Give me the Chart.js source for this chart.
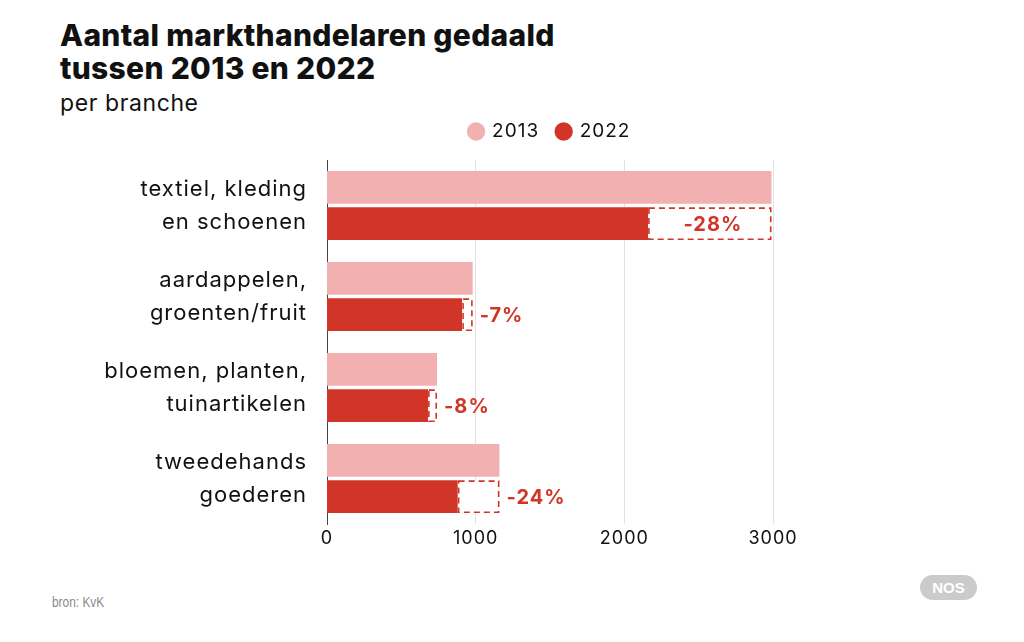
<!DOCTYPE html>
<html>
<head>
<meta charset="utf-8">
<script src="https://cdn.jsdelivr.net/npm/chart.js@4.4.1/dist/chart.umd.min.js"></script>
<style>
  html, body { margin: 0; padding: 0; background: #fff; }
  body { width: 1024px; height: 642px; position: relative; overflow: hidden; font-family: Inter, sans-serif; color: #111; }
  #title { position: absolute; left: 60px; top: 19px; font-size: 30px; font-weight: 800; line-height: 33px; letter-spacing: 0.3px; }
  #subtitle { position: absolute; left: 60px; top: 90px; font-size: 23px; line-height: 26px; letter-spacing: 0.6px; }
  #wrap { position: absolute; left: 0; top: 104px; width: 1024px; height: 473px; }
  #source { position: absolute; left: 52px; top: 594px; font-family: "Liberation Sans", sans-serif; font-size: 14px; color: #8a8a8a; transform: scaleX(0.85); transform-origin: left top; }
  #badge { position: absolute; left: 920px; top: 575px; width: 57px; height: 25px; border-radius: 13px; background: #cbcbcb; color: #fff; font-family: "Liberation Sans", sans-serif; font-weight: bold; font-size: 15px; line-height: 25px; text-align: center; }
</style>
</head>
<body>
<div id="title">Aantal markthandelaren gedaald<br>tussen 2013 en 2022</div>
<div id="subtitle">per branche</div>
<div id="wrap"><canvas id="chart"></canvas></div>
<div id="source">bron: KvK</div>
<div id="badge">NOS</div>

<script>
// data
const categories = [
  ['textiel, kleding', 'en schoenen'],
  ['aardappelen,', 'groenten/fruit'],
  ['bloemen, planten,', 'tuinartikelen'],
  ['tweedehands', 'goederen']
];
const values2013 = [2990, 980, 740, 1160];
const values2022 = [2160, 910, 680, 880];
const changeLabels = ['-28%', '-7%', '-8%', '-24%'];
const xTicks = [0, 1000, 2000, 3000];

const pink = '#f2b1b0';
const red = '#d13527';
const font = 'Inter, sans-serif';

// the original font runs wider than Inter, so space the letters a bit
const wideText = {
  id: 'wideText',
  beforeUpdate(chart) { chart.ctx.letterSpacing = '1px'; },
  beforeDraw(chart) { chart.ctx.letterSpacing = '1px'; }
};

// dashed box from the 2022 bar to the 2013 value, with the percentage
const dropBoxes = {
  id: 'dropBoxes',
  afterDatasetsDraw(chart) {
    const ctx = chart.ctx;
    const oldBars = chart.getDatasetMeta(0).data;
    const newBars = chart.getDatasetMeta(1).data;
    ctx.save();
    ctx.font = 'bold 20px ' + font;
    ctx.textBaseline = 'middle';
    newBars.forEach((bar, i) => {
      const x0 = bar.x;
      const x1 = oldBars[i].x;
      const h = bar.height;
      const top = bar.y - h / 2;
      ctx.fillStyle = '#fff';
      ctx.fillRect(x0, top, x1 - x0, h);
      ctx.setLineDash([6, 4]);
      ctx.lineWidth = 1.6;
      ctx.strokeStyle = red;
      ctx.strokeRect(x0 + 0.8, top + 0.8, x1 - x0 - 1.6, h - 1.6);
      ctx.setLineDash([]);
      ctx.fillStyle = red;
      const tw = ctx.measureText(changeLabels[i]).width;
      if (x1 - x0 > tw + 20) {
        ctx.textAlign = 'center';
        ctx.fillText(changeLabels[i], (x0 + x1) / 2 + 3, bar.y + 1);
      } else {
        ctx.textAlign = 'left';
        ctx.fillText(changeLabels[i], x1 + 7, bar.y + 1);
      }
    });
    ctx.restore();
  }
};

new Chart(document.getElementById('chart'), {
  type: 'bar',
  data: {
    labels: categories,
    datasets: [
      { label: '2013', data: values2013, backgroundColor: pink, categoryPercentage: 0.8, barPercentage: 0.9 },
      { label: '2022', data: values2022, backgroundColor: red, categoryPercentage: 0.8, barPercentage: 0.9 }
    ]
  },
  options: {
    indexAxis: 'y',
    responsive: true,
    maintainAspectRatio: false,
    animation: false,
    layout: { padding: { left: 0, right: 251, bottom: 0, top: 0 } },
    plugins: {
      legend: {
        position: 'top',
        fullSize: false,
        labels: {
          usePointStyle: true,
          pointStyle: 'circle',
          boxHeight: 13,
          boxWidth: 13,
          padding: 18,
          color: '#111',
          font: { family: font, size: 19 }
        }
      },
      tooltip: { enabled: false }
    },
    scales: {
      // empty axis, only keeps a gap between legend and bars
      spacer: {
        axis: 'x',
        position: 'top',
        display: true,
        afterFit(scale) { scale.height = 9; },
        grid: { display: false },
        border: { display: false },
        ticks: { display: false }
      },
      x: {
        min: 0,
        max: 3000,
        afterBuildTicks(scale) { scale.ticks = xTicks.map(v => ({ value: v })); },
        grid: {
          drawTicks: false,
          color: ctx => ctx.tick && ctx.tick.value === 0 ? 'rgba(0,0,0,0)' : '#e2e2e2'
        },
        border: { display: false },
        ticks: {
          padding: 4,
          color: '#111',
          font: { family: font, size: 18 },
          callback: v => String(v)
        }
      },
      y: {
        afterFit(scale) { scale.width = 327; },
        grid: { display: false, drawTicks: false },
        border: { display: true, color: '#444', width: 1 },
        ticks: { padding: 20, color: '#111', font: { family: font, size: 22, lineHeight: 1.5 } }
      }
    }
  },
  plugins: [wideText, dropBoxes]
});
</script>
</body>
</html>
